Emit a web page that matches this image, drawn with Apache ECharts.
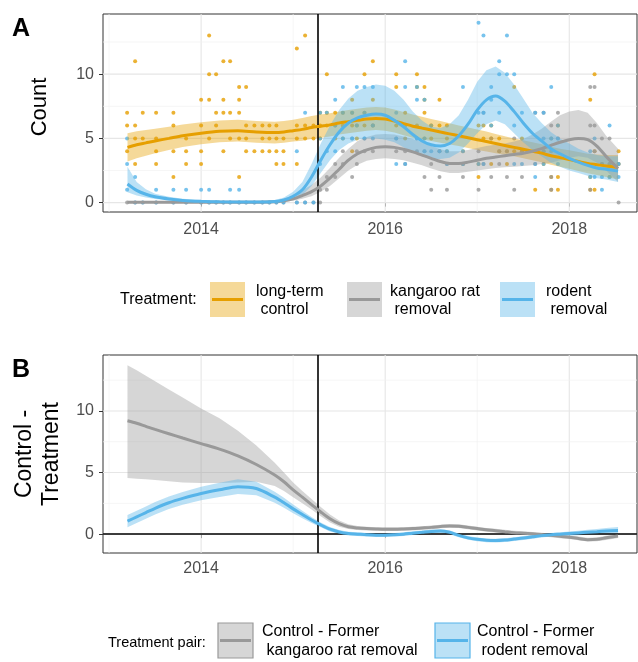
<!DOCTYPE html>
<html><head><meta charset="utf-8">
<script src="https://cdn.jsdelivr.net/npm/echarts@6/dist/echarts.min.js"></script>
<style>html,body{margin:0;padding:0;background:#fff}#c{width:638px;height:662px}</style>
</head><body><div id="c"></div>
<script>
// ---------- DATA ----------
const xTickYears = [2014, 2016, 2018];
const yTicksA = [0, 5, 10];
const yTicksB = [0, 5, 10];
const treatmentStart = 2015.265;

const sampleDates = [2013.196, 2013.283, 2013.366, 2013.511, 2013.699, 2013.837, 2014.000, 2014.087, 2014.163, 2014.242, 2014.315, 2014.413, 2014.489, 2014.579, 2014.666, 2014.742, 2014.818, 2014.895, 2015.040, 2015.130, 2015.221,
  2015.293, 2015.366, 2015.457, 2015.540, 2015.641, 2015.692, 2015.775, 2015.866, 2016.120, 2016.217, 2016.345, 2016.427, 2016.500, 2016.590, 2016.671, 2016.845, 2017.014, 2017.068, 2017.152, 2017.239, 2017.323, 2017.402, 2017.486, 2017.630, 2017.721, 2017.804, 2017.877, 2018.228, 2018.275, 2018.355, 2018.438, 2018.536];

const controlCounts = [[7,6,4],[11,6,5,3],[7,5],[7,5,4,3],[7,6,4,2],[5,4,3],[8,6,4,3],[13,10,8,5],[10,7,6],[11,8,7,4],[11,7,5],[9,8,7,5,2],[9,6,5,4],[6,4],[6,5,4],[6,5,4],[6,5,4,3],[5,4,3],[12,6,5,3],[13,6,5],[6,5],
  [7,6,5],[10,7,6],[7,6,5],[7,6,5],[8,7,6,4],[6,5],[10,7,6],[11,8,6],[10,9,6],[7,6,5],[10,9,6],[9,8,7,5],[6,5],[8,6,4],[6,5,4],[4,3],[6,3,2],[6,5],[6,5,3],[5,4],[4,3],[9,4],[5,4],[4,1],[4,3],[5,2,1],[6,2,1],[8,2,1],[10,4,1],[3],[3,2],[4,3]];

const kratCounts = [[0],[0],[0],[0],[0],[0],[0],[0],[0],[0],[0],[0],[0],[0],[0],[0],[0],[0],[0],[0],[0],
  [1,0],[2,1],[3,2],[4,3],[5,2],[4,3],[5,4],[6,4],[5,4],[4,3],[5,4],[4,2],[3,1],[4,2],[3,1],[3,2],[4,1],[7,3],[5,2],[4,3],[4,2],[5,1],[4,2],[7,3],[7,4],[6,2,1],[7,5],[9,6,1],[9,6,4],[5,3],[5,3],[3,0]];

const rodentCounts = [[5,3,1],[2,0],[0],[1,0],[1,0],[1,0],[1,0],[1,0],[0],[0],[1,0],[1,0],[0],[0],[0],[0],[0],[0],[4,0],[7,0],[0],
  [7,5,3],[7,4],[8,6,4],[9,7,5],[7,5],[9,6],[9,7,5],[9,6,5],[7,5,3],[11,9,3],[9,8,5],[8,5,4],[6,4],[4],[4,3],[9,4,3],[14,7,3],[13,7,3],[9,8,6],[11,10,7],[13,10],[10,6,3],[7,3],[7,3,2],[7,5,3],[9,5,4],[6,5,3],[4,2],[5,2],[2,1],[6,2],[3,2]];

const fitX = [2013.2, 2013.3, 2013.4, 2013.5, 2013.65, 2013.8, 2014.0, 2014.2, 2014.4, 2014.6, 2014.8, 2014.9, 2015.0, 2015.1, 2015.2, 2015.3, 2015.4, 2015.5, 2015.6, 2015.7, 2015.8, 2015.9, 2016.0, 2016.1, 2016.2, 2016.3, 2016.4, 2016.5, 2016.6, 2016.7, 2016.8, 2016.9, 2017.0, 2017.1, 2017.2, 2017.3, 2017.4, 2017.5, 2017.6, 2017.7, 2017.8, 2017.9, 2018.0, 2018.1, 2018.2, 2018.3, 2018.4, 2018.53];

const controlFit = [4.3, 4.5, 4.65, 4.8, 5.0, 5.2, 5.4, 5.55, 5.6, 5.5, 5.45, 5.5, 5.6, 5.7, 5.85, 5.95, 6.05, 6.2, 6.3, 6.4, 6.5, 6.55, 6.5, 6.35, 6.15, 5.95, 5.8, 5.65, 5.5, 5.35, 5.2, 5.05, 4.9, 4.75, 4.6, 4.45, 4.3, 4.15, 4.0, 3.85, 3.65, 3.5, 3.35, 3.2, 3.05, 2.95, 2.85, 2.75];
const controlLo = [3.2, 3.45, 3.65, 3.85, 4.1, 4.32, 4.55, 4.7, 4.75, 4.65, 4.6, 4.65, 4.75, 4.82, 4.95, 5.05, 5.15, 5.3, 5.4, 5.5, 5.6, 5.65, 5.6, 5.45, 5.25, 5.05, 4.92, 4.8, 4.65, 4.53, 4.4, 4.25, 4.1, 3.97, 3.85, 3.73, 3.6, 3.45, 3.3, 3.15, 2.95, 2.8, 2.63, 2.46, 2.29, 2.15, 2.0, 1.8];
const controlHi = [5.4, 5.55, 5.65, 5.75, 5.9, 6.08, 6.25, 6.4, 6.45, 6.35, 6.3, 6.35, 6.45, 6.58, 6.75, 6.85, 6.95, 7.1, 7.2, 7.3, 7.4, 7.45, 7.4, 7.25, 7.05, 6.85, 6.68, 6.5, 6.35, 6.17, 6.0, 5.85, 5.7, 5.53, 5.35, 5.17, 5.0, 4.85, 4.7, 4.55, 4.35, 4.2, 4.07, 3.94, 3.81, 3.75, 3.7, 3.7];

const kratFit = [0.02, 0.02, 0.02, 0.02, 0.02, 0.02, 0.02, 0.02, 0.02, 0.03, 0.06, 0.15, 0.3, 0.55, 0.85, 1.3, 1.9, 2.6, 3.3, 3.8, 4.1, 4.3, 4.35, 4.3, 4.15, 3.95, 3.7, 3.45, 3.2, 3.05, 3.05, 3.15, 3.3, 3.45, 3.55, 3.65, 3.75, 3.85, 4.0, 4.2, 4.45, 4.7, 4.9, 5.0, 4.9, 4.4, 3.6, 2.65];
const kratLo = [0, 0, 0, 0, 0, 0, 0, 0, 0, 0, 0.02, 0.07, 0.15, 0.3, 0.5, 0.85, 1.3, 1.9, 2.5, 2.95, 3.25, 3.4, 3.45, 3.4, 3.3, 3.1, 2.9, 2.65, 2.45, 2.3, 2.3, 2.4, 2.5, 2.6, 2.7, 2.75, 2.8, 2.85, 2.9, 3.0, 3.1, 3.3, 3.5, 3.6, 3.5, 3.1, 2.5, 1.6];
const kratHi = [0.08, 0.07, 0.06, 0.06, 0.05, 0.05, 0.05, 0.05, 0.05, 0.07, 0.14, 0.3, 0.55, 0.95, 1.4, 1.95, 2.7, 3.5, 4.2, 4.8, 5.1, 5.3, 5.35, 5.3, 5.15, 4.95, 4.7, 4.4, 4.15, 4.0, 4.0, 4.1, 4.25, 4.4, 4.5, 4.6, 4.75, 4.95, 5.3, 5.75, 6.3, 6.8, 7.1, 7.2, 7.0, 6.2, 5.2, 4.2];

const rodentFit = [1.45, 0.95, 0.65, 0.45, 0.28, 0.17, 0.1, 0.06, 0.04, 0.04, 0.08, 0.2, 0.5, 1.0, 2.0, 3.3, 4.5, 5.5, 6.2, 6.6, 6.8, 6.9, 6.8, 6.4, 5.9, 5.3, 4.8, 4.5, 4.4, 4.6, 5.2, 6.1, 7.2, 8.0, 8.3, 7.9, 7.1, 6.2, 5.4, 4.8, 4.2, 3.8, 3.45, 3.15, 2.9, 2.7, 2.6, 2.45];
const rodentLo = [0.8, 0.55, 0.4, 0.28, 0.17, 0.1, 0.05, 0.02, 0.01, 0.01, 0.03, 0.1, 0.3, 0.6, 1.3, 2.3, 3.3, 4.1, 4.6, 4.9, 5.0, 5.0, 4.9, 4.7, 4.3, 3.9, 3.6, 3.4, 3.4, 3.5, 3.9, 4.6, 5.4, 6.1, 6.4, 6.1, 5.4, 4.7, 4.1, 3.6, 3.1, 2.8, 2.5, 2.3, 2.1, 1.9, 1.8, 1.6];
const rodentHi = [2.8, 1.6, 1.05, 0.7, 0.45, 0.3, 0.2, 0.15, 0.13, 0.13, 0.2, 0.4, 0.85, 1.6, 3.0, 4.6, 6.0, 7.2, 8.1, 8.7, 9.0, 9.2, 9.1, 8.7, 8.0, 7.1, 6.4, 5.9, 5.8, 6.1, 6.8, 8.0, 9.4, 10.3, 10.6, 10.1, 9.2, 8.1, 7.0, 6.2, 5.5, 5.0, 4.6, 4.2, 3.9, 3.7, 3.6, 3.6];

const diffKratFit = [9.2, 9.0, 8.75, 8.5, 8.15, 7.8, 7.35, 6.9, 6.35, 5.65, 4.8, 4.25, 3.6, 3.0, 2.4, 1.8, 1.25, 0.85, 0.6, 0.5, 0.45, 0.42, 0.4, 0.4, 0.42, 0.45, 0.5, 0.55, 0.62, 0.67, 0.65, 0.55, 0.45, 0.35, 0.28, 0.2, 0.12, 0.08, 0.03, -0.03, -0.1, -0.18, -0.25, -0.35, -0.45, -0.42, -0.3, -0.15];
const diffKratLo = [4.55, 4.5, 4.45, 4.4, 4.3, 4.2, 4.15, 4.15, 4.2, 4.25, 3.9, 3.5, 3.0, 2.5, 2.0, 1.45, 0.95, 0.6, 0.42, 0.34, 0.3, 0.27, 0.25, 0.25, 0.27, 0.3, 0.35, 0.4, 0.47, 0.52, 0.5, 0.4, 0.3, 0.2, 0.13, 0.05, -0.03, -0.07, -0.12, -0.18, -0.25, -0.33, -0.4, -0.5, -0.6, -0.57, -0.47, -0.32];
const diffKratHi = [13.7, 13.3, 12.85, 12.4, 11.75, 11.1, 10.2, 9.4, 8.4, 7.2, 5.8, 5.0, 4.2, 3.5, 2.85, 2.2, 1.6, 1.1, 0.8, 0.66, 0.6, 0.57, 0.55, 0.55, 0.57, 0.6, 0.65, 0.7, 0.77, 0.82, 0.8, 0.7, 0.6, 0.5, 0.43, 0.35, 0.27, 0.23, 0.18, 0.12, 0.05, -0.03, -0.1, -0.2, -0.3, -0.27, -0.13, 0.02];

const diffRodentFit = [1.05, 1.4, 1.75, 2.1, 2.55, 2.9, 3.3, 3.6, 3.85, 3.7, 3.0, 2.55, 2.05, 1.6, 1.15, 0.75, 0.4, 0.18, 0.05, 0.0, -0.05, -0.08, -0.08, -0.05, 0.0, 0.08, 0.15, 0.22, 0.25, 0.15, -0.1, -0.3, -0.42, -0.5, -0.52, -0.48, -0.4, -0.32, -0.22, -0.12, -0.05, 0.0, 0.05, 0.1, 0.15, 0.2, 0.25, 0.3];
const diffRodentLo = [0.55, 0.9, 1.25, 1.6, 2.05, 2.38, 2.75, 3.02, 3.25, 3.15, 2.55, 2.15, 1.7, 1.3, 0.9, 0.55, 0.22, 0.03, -0.1, -0.15, -0.2, -0.23, -0.23, -0.2, -0.15, -0.07, 0.0, 0.07, 0.1, 0.0, -0.25, -0.45, -0.57, -0.65, -0.67, -0.63, -0.55, -0.47, -0.37, -0.27, -0.2, -0.15, -0.12, -0.08, -0.05, -0.02, 0.0, 0.02];
const diffRodentHi = [1.55, 1.9, 2.25, 2.6, 3.05, 3.42, 3.85, 4.18, 4.45, 4.25, 3.45, 2.95, 2.4, 1.9, 1.4, 0.95, 0.58, 0.33, 0.2, 0.15, 0.1, 0.07, 0.07, 0.1, 0.15, 0.23, 0.3, 0.37, 0.4, 0.3, 0.05, -0.15, -0.27, -0.35, -0.37, -0.33, -0.25, -0.17, -0.07, 0.03, 0.1, 0.15, 0.22, 0.28, 0.35, 0.42, 0.5, 0.58];

const treatmentLabels = [['long-term', ' control'], ['kangaroo rat', ' removal'], ['rodent', ' removal']];
const pairLabels = [['Control - Former', ' kangaroo rat removal'], ['Control - Former', ' rodent removal']];

// ---------- STYLE ----------
const FONT = '"Liberation Sans", Arial, Helvetica, sans-serif';
const C_ORANGE = '#E69F00', C_GREY = '#999999', C_BLUE = '#56B4E9';
const F_ORANGE = 'rgba(230,159,0,0.4)', F_GREY = 'rgba(153,153,153,0.4)', F_BLUE = 'rgba(86,180,233,0.4)';

const chart = echarts.init(document.getElementById('c'), null, {renderer: 'canvas'});

function pts(dates, counts) {
  const out = [];
  dates.forEach((d, i) => counts[i].forEach(c => out.push([d, c])));
  return out;
}
function band(name, lo, hi, fill, gi) {
  return {type: 'custom', name: name, xAxisIndex: gi, yAxisIndex: gi, silent: true, z: 3, clip: true,
    data: fitX.map((x, i) => [x, lo[i], hi[i]]),
    encode: {x: 0, y: [1, 2]},
    renderItem: (p, api) => {
      if (p.dataIndex !== 0) return null;
      const top = fitX.map((x, i) => api.coord([x, hi[i]]));
      const bot = fitX.map((x, i) => api.coord([x, lo[i]])).reverse();
      return {type: 'polygon', shape: {points: top.concat(bot)}, style: {fill: fill}};
    }};
}
function fitLine(name, fit, color, gi, extra) {
  return Object.assign({type: 'line', name: name, xAxisIndex: gi, yAxisIndex: gi,
    data: fitX.map((x, i) => [x, fit[i]]), symbol: 'none', smooth: 0.3,
    lineStyle: {color: color, width: 3}, silent: true, z: 5}, extra || {});
}
function scatter(name, counts, color) {
  return {type: 'scatter', name: name, xAxisIndex: 0, yAxisIndex: 0, data: pts(sampleDates, counts),
    symbolSize: 4, itemStyle: {color: color}, silent: true, z: 2};
}
const xMajor = [2014, 2016, 2018], xMinor = [2013, 2015, 2017];
const yMajor = [0, 5, 10], yMinor = [2.5, 7.5, 12.5];
function gridLines(gi) {
  const vdata = xMajor.map(v => [v, 0, 1]).concat(xMinor.map(v => [v, 0, 0]));
  const hdata = yMajor.map(v => [2014, v, 1]).concat(yMinor.map(v => [2014, v, 0]));
  return [
    {type: 'custom', xAxisIndex: gi, yAxisIndex: gi, silent: true, z: 1, data: vdata,
      renderItem: (p, api) => {
        const x = api.coord([api.value(0), 0])[0]; const cs = p.coordSys; const maj = api.value(2);
        return {type: 'line', shape: {x1: x, y1: cs.y, x2: x, y2: cs.y + cs.height},
          style: {stroke: maj ? '#E6E6E6' : '#F1F1F1', lineWidth: maj ? 1.1 : 0.7}};
      }},
    {type: 'custom', xAxisIndex: gi, yAxisIndex: gi, silent: true, z: 1, data: hdata,
      renderItem: (p, api) => {
        const y = api.coord([api.value(0), api.value(1)])[1]; const cs = p.coordSys; const maj = api.value(2);
        return {type: 'line', shape: {x1: cs.x, y1: y, x2: cs.x + cs.width, y2: y},
          style: {stroke: maj ? '#E6E6E6' : '#F1F1F1', lineWidth: maj ? 1.1 : 0.7}};
      }}
  ];
}
const refLine = (arr) => ({silent: true, symbol: 'none', label: {show: false}, animation: false,
  lineStyle: {color: '#000', width: 1.6, type: 'solid'}, data: arr});

function xAxisCfg(gi, margin) {
  return {gridIndex: gi, type: 'value', min: 2012.934, max: 2018.736,
    axisLine: {show: false}, splitLine: {show: false},
    axisTick: {show: true, customValues: xTickYears, length: 4, lineStyle: {color: '#333', width: 1}},
    axisLabel: {customValues: xTickYears, formatter: v => String(v), color: '#4D4D4D', fontSize: 16, fontFamily: FONT, margin: margin}};
}
function yAxisCfg(gi, min, max, ticks, name, gap, fs, pad) {
  return {gridIndex: gi, type: 'value', min: min, max: max,
    axisLine: {show: false}, splitLine: {show: false},
    axisTick: {show: true, customValues: ticks, length: 4, lineStyle: {color: '#333', width: 1}},
    axisLabel: {customValues: ticks, formatter: v => String(v), color: '#4D4D4D', fontSize: 16, fontFamily: FONT, margin: 9},
    name: name, nameLocation: 'middle', nameGap: gap,
    nameTextStyle: {fontSize: fs, color: '#000', fontFamily: FONT, lineHeight: 27, padding: pad}};
}

function legendKey(x, y, fill, color, border) {
  const els = [{type: 'rect', shape: {x: x, y: y, width: 35, height: 35},
    style: {fill: fill, stroke: border ? color : null, lineWidth: border ? 1.2 : 0}}];
  els.push({type: 'line', shape: {x1: x + 2, y1: y + 17.5, x2: x + 33, y2: y + 17.5}, style: {stroke: color, lineWidth: 3}});
  return els;
}
function txt(x, y, s, font) {
  return {type: 'text', x: x, y: y, style: {text: s, font: font || ('16px ' + FONT), fill: '#000',
    textAlign: 'left', textVerticalAlign: 'middle', align: 'left', verticalAlign: 'middle'}};
}

const graphics = [].concat(
  [txt(12, 29, 'A', 'bold 25px ' + FONT), txt(12, 370, 'B', 'bold 25px ' + FONT)],
  [txt(120, 300, 'Treatment:')],
  legendKey(210, 282, F_ORANGE, C_ORANGE, false),
  [txt(256, 291.5, treatmentLabels[0][0]), txt(256, 310, treatmentLabels[0][1])],
  legendKey(347, 282, F_GREY, C_GREY, false),
  [txt(390, 291.5, treatmentLabels[1][0]), txt(390, 310, treatmentLabels[1][1])],
  legendKey(500, 282, F_BLUE, C_BLUE, false),
  [txt(546, 291.5, treatmentLabels[2][0]), txt(546, 310, treatmentLabels[2][1])],
  [txt(108, 643, 'Treatment pair:', '14.5px ' + FONT)],
  legendKey(218, 623, F_GREY, C_GREY, true),
  [txt(262, 631.5, pairLabels[0][0]), txt(262, 651, pairLabels[0][1])],
  legendKey(435, 623, F_BLUE, C_BLUE, true),
  [txt(477, 631.5, pairLabels[1][0]), txt(477, 651, pairLabels[1][1])]
);

const option = {
  animation: false,
  backgroundColor: '#fff',
  textStyle: {fontFamily: FONT},
  grid: [
    {left: 103, top: 14, width: 534, height: 198, show: true, borderColor: '#333', borderWidth: 1, backgroundColor: '#fff', containLabel: false},
    {left: 103, top: 355, width: 534, height: 198, show: true, borderColor: '#333', borderWidth: 1, backgroundColor: '#fff', containLabel: false}
  ],
  xAxis: [xAxisCfg(0, 10), xAxisCfg(1, 8)],
  yAxis: [yAxisCfg(0, -0.73, 14.68, yTicksA, 'Count', 50, 22, [0, 0, 0, 12]),
          yAxisCfg(1, -1.53, 14.54, yTicksB, 'Control -\nTreatment', 37, 23, 0)],
  graphic: graphics,
  series: [].concat(
    gridLines(0), gridLines(1),
    [scatter('long-term control', controlCounts, C_ORANGE),
     scatter('kangaroo rat removal', kratCounts, C_GREY),
     scatter('rodent removal', rodentCounts, C_BLUE)],
    [band('ctl band', controlLo, controlHi, F_ORANGE, 0),
     band('krat band', kratLo, kratHi, F_GREY, 0),
     band('rod band', rodentLo, rodentHi, F_BLUE, 0)],
    [fitLine('control fit', controlFit, C_ORANGE, 0),
     fitLine('krat fit', kratFit, C_GREY, 0),
     fitLine('rodent fit', rodentFit, C_BLUE, 0, {markLine: refLine([{xAxis: treatmentStart}])})],
    [band('dk band', diffKratLo, diffKratHi, F_GREY, 1),
     band('dr band', diffRodentLo, diffRodentHi, F_BLUE, 1)],
    [fitLine('Control - Former kangaroo rat removal', diffKratFit, C_GREY, 1),
     fitLine('Control - Former rodent removal', diffRodentFit, C_BLUE, 1, {markLine: refLine([{xAxis: treatmentStart}, {yAxis: 0}])})]
  )
};
chart.setOption(option);
</script></body></html>
